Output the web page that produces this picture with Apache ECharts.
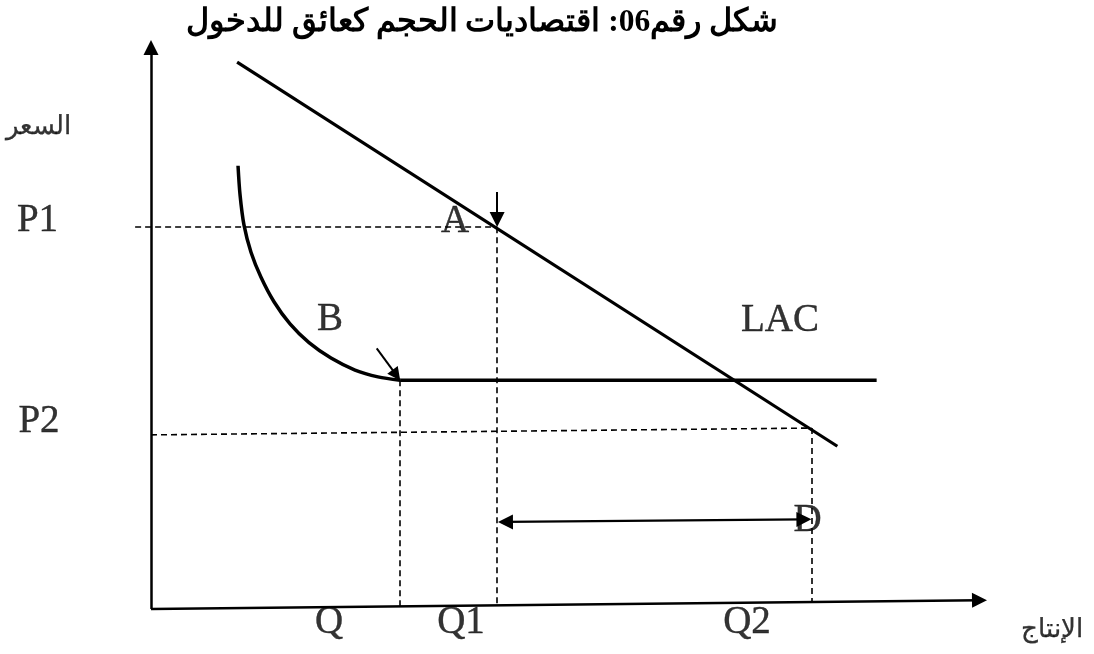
<!DOCTYPE html>
<html>
<head>
<meta charset="utf-8">
<script src="https://cdn.jsdelivr.net/npm/echarts@6/dist/echarts.min.js"></script>
<style>
  html, body { margin: 0; padding: 0; background: #ffffff; }
  #chart { width: 1094px; height: 654px; }
</style>
</head>
<body>
<div id="chart"></div>
<script>
// Economies of scale as a barrier to entry: demand line, long-run average cost (LAC)
const titleText = 'شكل رقم06: اقتصاديات الحجم كعائق للدخول';
const yAxisName = 'السعر';
const xAxisName = 'الإنتاج';

// Key quantities and prices
const Q = 29.8, Q1 = 41.4, Q2 = 79.0;
const P1 = 67.1, P2 = 30.6;
const LAC_MIN = 40.2;

// Straight line through A
const demandLine = [[10.3, 96.1], [82.1, 28.6]];
// Falling part of LAC, then its flat part from Q onward
const lacCurve = [
  [10.41, 77.9], [10.65, 72.8], [11.12, 67.5], [11.96, 62.7], [13.16, 58.3], [14.71, 54.0],
  [16.63, 50.1], [18.90, 46.8], [21.53, 44.1], [24.40, 42.0], [27.15, 40.8], [Q, LAC_MIN]
];
const lacFlat = [[Q, LAC_MIN], [86.8, LAC_MIN]];

// Axes drawn as arrows
const axisLines = [
  [[0, 0], [0, 98.7]],
  [[0, 0], [99.1, 1.53]]
];
// Dashed guide lines
const guideLines = [
  [[-1.9, P1], [Q1, P1]],
  [[Q1, P1], [Q1, 0.65]],
  [[Q, LAC_MIN], [Q, 0.47]],
  [[0, P2], [Q2, 31.8]],
  [[Q2, 31.8], [Q2, 1.28]]
];
// Range arrow between Q1 and Q2
const rangeArrow = [[42.4, 15.3], [78.1, 15.75]];
// Pointers to A and B
const pointerA = [[Q1, 73.3], [Q1, 68.45]];
const pointerB = [[27.0, 45.8], [29.35, 41.1]];

// Text labels with their anchor points
const pointLabels = [
  { name: 'A', value: [36.36, 68.1] },
  { name: 'B', value: [21.41, 50.8] },
  { name: 'LAC', value: [75.24, 50.6] },
  { name: 'D', value: [78.53, 15.55] },
  { name: 'P1', value: [-13.58, 68.3] },
  { name: 'P2', value: [-13.4, 32.95] },
  { name: 'Q', value: [21.29, -2.46] },
  { name: 'Q1', value: [37.08, -2.46] },
  { name: 'Q2', value: [71.29, -2.46] }
];
const axisLabels = [
  { name: yAxisName, value: [-13.5, 84.7] },
  { name: xAxisName, value: [107.78, -3.69] }
];

const serif = "'Liberation Serif', 'Times New Roman', 'DejaVu Serif', serif";
const ink = '#000000';

const chart = echarts.init(document.getElementById('chart'), null, { renderer: 'canvas' });

function seg(list) {
  return list.map(c => ({ coords: c }));
}

chart.setOption({
  backgroundColor: '#ffffff',
  animation: false,
  title: {
    text: titleText,
    left: 477,
    top: 2,
    textAlign: 'center',
    textStyle: { fontFamily: serif, fontWeight: 'bold', fontSize: 31.5, color: ink }
  },
  grid: { left: 151, top: 40, width: 836, height: 569, containLabel: false },
  xAxis: { type: 'value', min: 0, max: 100, show: false },
  yAxis: { type: 'value', min: 0, max: 100, show: false },
  series: [
    {
      type: 'lines', coordinateSystem: 'cartesian2d', clip: false, z: 5,
      data: seg(axisLines),
      symbol: ['none', 'triangle'], symbolSize: 15,
      lineStyle: { color: ink, width: 2.5, opacity: 1 }
    },
    {
      type: 'lines', coordinateSystem: 'cartesian2d', clip: false, z: 3,
      data: seg(guideLines),
      symbol: 'none',
      lineStyle: { color: ink, width: 1.6, type: [6, 4], opacity: 1 }
    },
    {
      type: 'lines', coordinateSystem: 'cartesian2d', clip: false, z: 5,
      data: seg([rangeArrow]),
      symbol: ['triangle', 'triangle'], symbolSize: 15,
      lineStyle: { color: ink, width: 2.2, opacity: 1 }
    },
    {
      type: 'lines', coordinateSystem: 'cartesian2d', clip: false, z: 5,
      data: seg([pointerA]),
      symbol: ['none', 'triangle'], symbolSize: 15,
      lineStyle: { color: ink, width: 2, opacity: 1 }
    },
    {
      type: 'lines', coordinateSystem: 'cartesian2d', clip: false, z: 5,
      data: seg([pointerB]),
      symbol: ['none', 'triangle'], symbolSize: 13,
      lineStyle: { color: ink, width: 2, opacity: 1 }
    },
    {
      type: 'line', data: demandLine, showSymbol: false, clip: false, z: 4,
      lineStyle: { color: ink, width: 3.2 }
    },
    {
      type: 'line', data: lacCurve, smooth: 0.3, showSymbol: false, clip: false, z: 4,
      lineStyle: { color: ink, width: 3.5 }
    },
    {
      type: 'line', data: lacFlat, showSymbol: false, clip: false, z: 4,
      lineStyle: { color: ink, width: 3.5 }
    },
    {
      type: 'scatter', data: pointLabels, clip: false, z: 6,
      symbolSize: 1, itemStyle: { color: 'rgba(0,0,0,0)' },
      label: {
        show: true, position: 'inside', formatter: '{b}',
        fontFamily: serif, fontSize: 39, color: ink, align: 'center', verticalAlign: 'middle',
        textBorderColor: ink, textBorderWidth: 0.4
      }
    },
    {
      type: 'scatter', data: axisLabels, clip: false, z: 6,
      symbolSize: 1, itemStyle: { color: 'rgba(0,0,0,0)' },
      label: {
        show: true, position: 'inside', formatter: '{b}',
        fontFamily: serif, fontSize: 26, color: ink, align: 'center', verticalAlign: 'middle',
        textBorderColor: ink, textBorderWidth: 0.3
      }
    }
  ]
});
</script>
</body>
</html>
